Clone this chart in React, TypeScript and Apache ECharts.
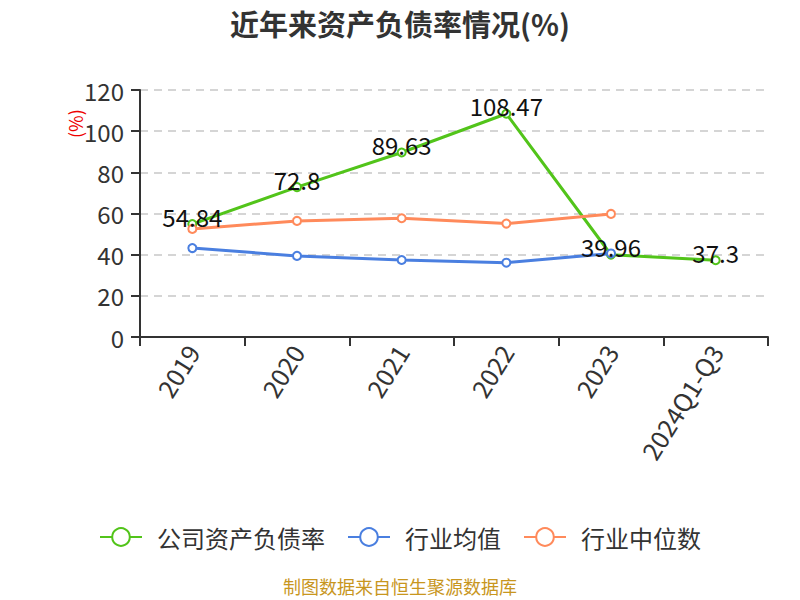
import React, { useEffect, useRef } from "react";
import * as echarts from "echarts";

const categories = ["2019", "2020", "2021", "2022", "2023", "2024Q1-Q3"];
const companyRatio = [54.84, 72.8, 89.63, 108.47, 39.96, 37.3];
const industryAvg = [43.2, 39.4, 37.4, 36.1, 40.6, null];
const industryMedian = [52.5, 56.4, 57.7, 55.1, 59.8, null];
const yTicks = { min: 0, max: 120, interval: 20 };

export default function App() {
  const ref = useRef<HTMLDivElement>(null);
  useEffect(() => {
    const chart = echarts.init(ref.current!, null, { renderer: "svg" });
    const font = "'Noto Sans CJK SC', 'Noto Sans', sans-serif";
    chart.setOption({
      animation: false,
      textStyle: { fontFamily: font },
      title: {
        text: "近年来资产负债率情况(%)",
        left: "center",
        top: 3,
        textStyle: { fontSize: 29, fontWeight: "bold", color: "#333", fontFamily: font },
      },
      grid: { left: 140, right: 32, top: 90, bottom: 263 },
      legend: {
        top: 520,
        left: "center",
        itemWidth: 42,
        itemHeight: 22,
        itemGap: 22,
        textStyle: { fontSize: 24, color: "#333", fontFamily: font, padding: [0, 0, 0, 10] },
        data: ["公司资产负债率", "行业均值", "行业中位数"],
      },
      graphic: [
        {
          type: "text",
          x: 66,
          y: 138,
          rotation: Math.PI / 2,
          style: { text: "(%)", fill: "#e00", fontSize: 18, fontFamily: font },
        },
        {
          type: "text",
          left: "center",
          top: 577,
          style: { text: "制图数据来自恒生聚源数据库", fill: "#c8961e", fontSize: 18, fontFamily: font },
        },
      ],
      xAxis: {
        type: "category",
        data: categories,
        boundaryGap: true,
        axisLine: { lineStyle: { color: "#333", width: 2 } },
        axisTick: { show: true, length: 9, lineStyle: { color: "#333", width: 2 } },
        axisLabel: { rotate: 58, fontSize: 25, color: "#333", margin: 10, fontFamily: font },
      },
      yAxis: {
        type: "value",
        min: yTicks.min,
        max: yTicks.max,
        interval: yTicks.interval,
        axisLine: { show: true, lineStyle: { color: "#333", width: 2 } },
        axisTick: { show: true, length: 9, lineStyle: { color: "#333", width: 2 } },
        axisLabel: { fontSize: 24, color: "#333", margin: 16, fontFamily: font },
        splitLine: { lineStyle: { type: [8, 6], color: "#c8c8c8", width: 1.5 } },
      },
      series: [
        {
          name: "公司资产负债率",
          type: "line",
          data: companyRatio,
          color: "#52c41a",
          lineStyle: { width: 3 },
          symbol: "emptyCircle",
          symbolSize: 8,
          label: { show: true, position: "top", fontSize: 24, color: "#111", distance: -9 },
        },
        {
          name: "行业均值",
          type: "line",
          data: industryAvg,
          color: "#4a7fe0",
          lineStyle: { width: 3 },
          symbol: "emptyCircle",
          symbolSize: 8,
        },
        {
          name: "行业中位数",
          type: "line",
          data: industryMedian,
          color: "#ff8a5b",
          lineStyle: { width: 3 },
          symbol: "emptyCircle",
          symbolSize: 8,
        },
      ],
    });
    return () => chart.dispose();
  }, []);
  return <div ref={ref} style={{ position: "absolute", left: 0, top: 0, width: 800, height: 600 }} />;
}
